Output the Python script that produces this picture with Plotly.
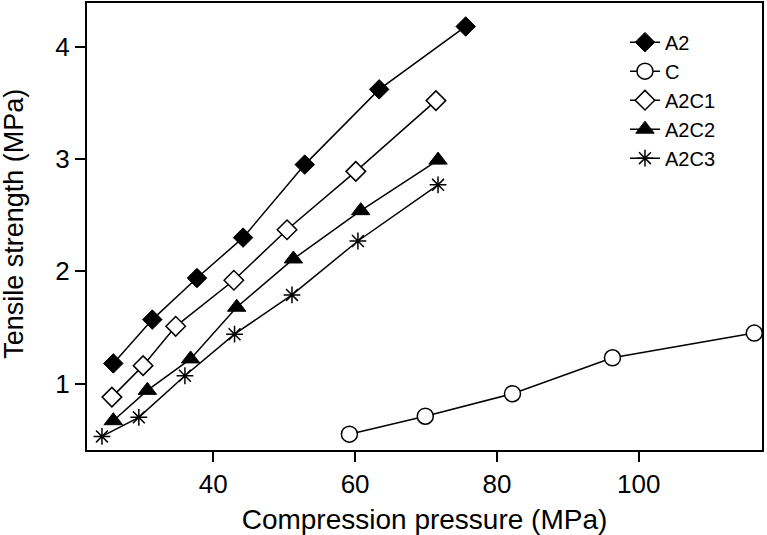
import plotly.graph_objects as go

# Data
a2_x = [25.9, 31.4, 37.7, 44.2, 52.9, 63.4, 75.6]
a2_y = [1.18, 1.57, 1.94, 2.30, 2.95, 3.62, 4.18]

c_x = [59.2, 69.9, 82.2, 96.3, 116.3]
c_y = [0.55, 0.71, 0.91, 1.23, 1.45]

a2c1_x = [25.7, 30.1, 34.7, 42.9, 50.4, 60.1, 71.4]
a2c1_y = [0.88, 1.16, 1.51, 1.92, 2.37, 2.89, 3.52]

a2c2_x = [25.9, 30.7, 36.8, 43.3, 51.3, 60.8, 71.7]
a2c2_y = [0.67, 0.94, 1.22, 1.68, 2.11, 2.54, 2.99]

a2c3_x = [24.3, 29.5, 36.0, 43.0, 51.1, 60.4, 71.7]
a2c3_y = [0.53, 0.70, 1.07, 1.44, 1.79, 2.27, 2.77]

x_ticks = [40, 60, 80, 100]
y_ticks = [1, 2, 3, 4]

FONT = "Liberation Sans, Arial, sans-serif"
LINE = dict(color="black", width=1.5)

fig = go.Figure()
fig.add_trace(go.Scatter(x=a2_x, y=a2_y, name="A2", mode="lines+markers", line=LINE,
                         marker=dict(symbol="diamond", size=15, color="black",
                                     line=dict(color="black", width=1))))
fig.add_trace(go.Scatter(x=c_x, y=c_y, name="C", mode="lines+markers", line=LINE,
                         marker=dict(symbol="circle", size=16, color="white",
                                     line=dict(color="black", width=1.5))))
fig.add_trace(go.Scatter(x=a2c1_x, y=a2c1_y, name="A2C1", mode="lines+markers", line=LINE,
                         marker=dict(symbol="diamond", size=15, color="white",
                                     line=dict(color="black", width=1.5))))
fig.add_trace(go.Scatter(x=a2c2_x, y=a2c2_y, name="A2C2", mode="lines+markers", line=LINE,
                         marker=dict(symbol="triangle-up", size=16, color="black",
                                     line=dict(color="black", width=1))))
fig.add_trace(go.Scatter(x=a2c3_x, y=a2c3_y, name="A2C3", mode="lines+markers", line=LINE,
                         marker=dict(symbol="asterisk-open", size=14, color="black",
                                     line=dict(color="black", width=1.5))))

fig.update_layout(
    width=767, height=535,
    margin=dict(l=87, r=5, t=1, b=83),
    paper_bgcolor="white", plot_bgcolor="white",
    font=dict(family=FONT, color="black"),
    showlegend=True,
    legend=dict(x=0.797, y=0.956, xanchor="left", yanchor="top",
                font=dict(size=20, family=FONT, color="black"),
                bgcolor="rgba(0,0,0,0)", borderwidth=0),
    xaxis=dict(range=[22.19, 117.39], tickvals=x_ticks, ticks="outside", ticklen=10,
               tickwidth=1.5, tickcolor="black", showgrid=False, zeroline=False,
               showline=True, linecolor="black", linewidth=2, mirror=True,
               tickfont=dict(size=26, family=FONT),
               title=dict(text="Compression pressure (MPa)", font=dict(size=28, family=FONT))),
    yaxis=dict(range=[0.409, 4.389], tickvals=y_ticks, ticks="outside", ticklen=10,
               tickwidth=1.5, tickcolor="black", showgrid=False, zeroline=False,
               showline=True, linecolor="black", linewidth=2, mirror=True,
               tickfont=dict(size=26, family=FONT)),
    annotations=[dict(text="Tensile strength (MPa)", textangle=-90, showarrow=False,
                      xref="paper", yref="paper", x=-0.1074, y=0.505,
                      xanchor="center", yanchor="middle",
                      font=dict(size=27, family=FONT, color="black"))],
)

fig.write_html("out.html", config={"displayModeBar": False},
               post_script="document.body.style.margin='0';document.body.style.overflow='hidden';")
